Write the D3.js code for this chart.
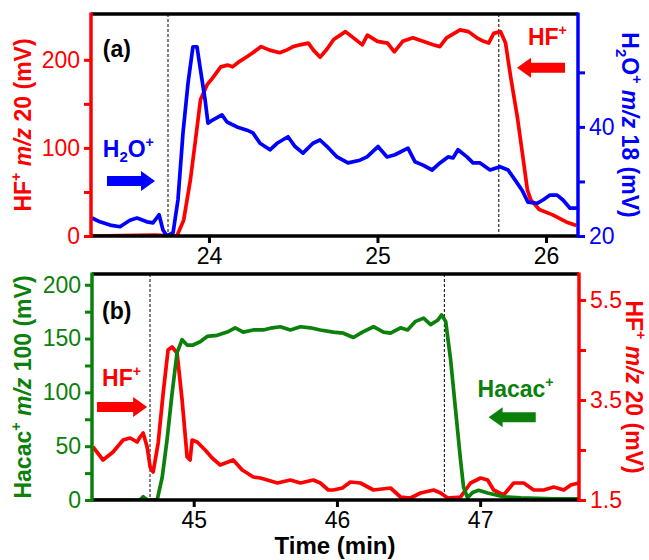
<!DOCTYPE html>
<html>
<head>
<meta charset="utf-8" />
<script src="https://d3js.org/d3.v7.min.js"></script>
<style>
  body { margin: 0; background: #fff; }
  svg { font-family: "Liberation Sans", Arial, sans-serif; }
  .tick text { font-size: 23px; }
</style>
</head>
<body>
<svg id="chart" width="649" height="560"></svg>
<script>
// ---- panel (a) data ----
const aRedTime = [23.30, 23.68, 23.81, 23.85, 23.89, 23.92, 23.95, 23.99, 24.02, 24.07, 24.11, 24.14, 24.18, 24.23, 24.26, 24.31, 24.36, 24.42, 24.46, 24.50, 24.54, 24.59, 24.62, 24.66, 24.70, 24.74, 24.81, 24.85, 24.91, 24.94, 25.00, 25.06, 25.10, 25.15, 25.21, 25.27, 25.33, 25.37, 25.41, 25.49, 25.54, 25.59, 25.63, 25.66, 25.69, 25.73, 25.76, 25.79, 25.83, 25.86, 25.89, 25.91, 25.96, 26.04, 26.12, 26.18];
const aRedHF = [0, 1, 0, 18, 64, 109, 155, 172, 179, 192, 194, 192, 198, 204, 208, 215, 211, 208, 211, 215, 217, 219, 211, 203, 212, 223, 232, 226, 217, 228, 221, 219, 209, 221, 225, 221, 217, 215, 225, 234, 232, 225, 221, 219, 230, 232, 219, 181, 135, 94, 52, 41, 30, 24, 16, 12];
const aBlueTime = [23.306, 23.353, 23.413, 23.472, 23.531, 23.573, 23.632, 23.668, 23.704, 23.727, 23.751, 23.787, 23.816, 23.846, 23.876, 23.905, 23.929, 23.947, 23.977, 23.994, 24.024, 24.077, 24.107, 24.166, 24.226, 24.261, 24.303, 24.362, 24.404, 24.469, 24.511, 24.558, 24.617, 24.659, 24.701, 24.760, 24.825, 24.896, 24.938, 25.003, 25.057, 25.104, 25.181, 25.223, 25.270, 25.324, 25.371, 25.419, 25.448, 25.478, 25.531, 25.567, 25.609, 25.668, 25.727, 25.775, 25.816, 25.858, 25.893, 25.947, 25.982, 26.024, 26.066, 26.101, 26.143, 26.184];
const aBlueH2O = [23.3, 22.6, 22.0, 21.7, 22.9, 23.3, 22.6, 22.4, 23.9, 21.1, 20.0, 20.6, 26.6, 38.9, 48.1, 54.7, 54.7, 51.0, 45.0, 40.7, 41.3, 42.2, 40.9, 40.0, 39.4, 38.9, 37.0, 35.8, 37.0, 38.2, 36.4, 35.2, 37.0, 37.6, 36.4, 34.5, 33.4, 33.9, 34.5, 36.4, 34.5, 34.9, 36.1, 33.6, 33.0, 32.1, 33.4, 34.5, 34.3, 35.8, 34.5, 33.4, 33.4, 32.1, 32.7, 32.1, 30.3, 28.4, 26.2, 26.0, 26.6, 27.5, 27.5, 26.6, 25.1, 25.1];

// ---- panel (b) data ----
const bGreenTime = [44.29, 44.626, 44.647, 44.675, 44.745, 44.780, 44.814, 44.849, 44.884, 44.919, 44.954, 44.996, 45.045, 45.094, 45.164, 45.234, 45.290, 45.346, 45.416, 45.486, 45.549, 45.605, 45.675, 45.745, 45.814, 45.884, 45.975, 46.045, 46.115, 46.178, 46.255, 46.325, 46.374, 46.444, 46.493, 46.549, 46.605, 46.654, 46.703, 46.731, 46.759, 46.794, 46.828, 46.863, 46.884, 46.912, 46.947, 46.989, 47.052, 47.164, 47.283, 47.514, 47.689];
const bGreenHacac = [0, 0, 3, 0, 0, 21, 56, 99, 137, 149, 144, 144, 147, 152, 153, 156, 160, 156, 158, 158, 160, 161, 158, 161, 160, 158, 156, 155, 151, 156, 161, 156, 155, 160, 158, 166, 169, 163, 167, 172, 166, 130, 84, 37, 12, 2, 7, 9, 6.5, 3, 2, 1, 1];
const bRedTime = [44.297, 44.367, 44.437, 44.507, 44.556, 44.605, 44.626, 44.647, 44.675, 44.696, 44.717, 44.752, 44.787, 44.821, 44.849, 44.884, 44.919, 44.954, 44.975, 44.989, 45.024, 45.080, 45.129, 45.185, 45.276, 45.339, 45.416, 45.465, 45.514, 45.584, 45.675, 45.745, 45.835, 45.884, 45.940, 45.975, 46.038, 46.094, 46.164, 46.255, 46.374, 46.444, 46.514, 46.584, 46.675, 46.724, 46.773, 46.863, 46.933, 47.003, 47.052, 47.094, 47.164, 47.234, 47.304, 47.374, 47.444, 47.514, 47.584, 47.633, 47.689];
const bRedHF = [2.56, 2.30, 2.46, 2.70, 2.74, 2.66, 2.76, 2.84, 2.56, 2.16, 2.06, 2.64, 3.64, 4.50, 4.56, 4.44, 3.50, 2.36, 2.30, 2.70, 2.66, 2.50, 2.34, 2.20, 2.30, 2.10, 1.96, 1.94, 1.90, 1.84, 1.90, 1.84, 1.90, 1.84, 1.70, 1.70, 1.74, 1.86, 1.84, 1.70, 1.74, 1.56, 1.54, 1.64, 1.70, 1.64, 1.54, 1.56, 1.84, 1.94, 1.90, 1.70, 1.60, 1.84, 1.84, 1.70, 1.70, 1.76, 1.70, 1.80, 1.84];

// ticks
const aXTicks = [24, 25, 26];
const aLeftTicks = [0, 50, 100, 150, 200], aLeftLabeled = [0, 100, 200];
const aRightTicks = [20, 30, 40, 50], aRightLabeled = [20, 40];
const bXTicks = [45, 46, 47];
const bLeftTicks = [0, 25, 50, 75, 100, 125, 150, 175, 200], bLeftLabeled = [0, 50, 100, 150, 200];
const bRightTicks = [1.5, 2.5, 3.5, 4.5, 5.5], bRightLabeled = [1.5, 3.5, 5.5];

// event markers (min)
const aEvents = [23.757, 25.72];
const bEvents = [44.695, 46.75];

const RED = "#ff0000", BLUE = "#0000ff", GREEN = "#0b800b";

const svg = d3.select("#chart");

// writes text with parts: {t, sup, sub, it}
function richText(sel, parts, fs) {
  let shift = 0;
  parts.forEach(p => {
    const ts = sel.append("tspan").text(p.t);
    let target = 0;
    if (p.sup) { target = -0.42 * fs; ts.attr("font-size", fs * 0.62); }
    if (p.sub) { target = 0.25 * fs; ts.attr("font-size", fs * 0.65); }
    if (p.it) ts.attr("font-style", "italic");
    if (target !== shift) { ts.attr("dy", target - shift); shift = target; }
  });
}

function arrow(g, x1, x2, y, color) {
  const dir = x2 > x1 ? 1 : -1;
  const head = 14, hh = 10, sh = 5;
  const xb = x2 - dir * head;
  g.append("path")
    .attr("d", `M${x1},${y - sh}L${xb},${y - sh}L${xb},${y - hh}L${x2},${y}L${xb},${y + hh}L${xb},${y + sh}L${x1},${y + sh}Z`)
    .attr("fill", color);
}

function panel(cfg) {
  const x = d3.scaleLinear().domain(cfg.xDomain).range([cfg.left, cfg.right]);
  const yL = d3.scaleLinear().domain(cfg.lDomain).range([cfg.bottom, cfg.top]);
  const yR = d3.scaleLinear().domain(cfg.rDomain).range([cfg.bottom, cfg.top]);
  const g = svg.append("g");
  const cid = "clip" + cfg.id;
  g.append("clipPath").attr("id", cid).append("rect")
    .attr("x", cfg.left).attr("y", cfg.top - 2)
    .attr("width", cfg.right - cfg.left).attr("height", cfg.bottom - cfg.top + 2);

  // event dashed lines
  g.selectAll(".ev").data(cfg.events).join("line")
    .attr("x1", d => x(d)).attr("x2", d => x(d))
    .attr("y1", cfg.top).attr("y2", cfg.bottom)
    .attr("stroke", "#000").attr("stroke-width", 1).attr("stroke-dasharray", "3,2");

  // series
  const lines = g.append("g").attr("clip-path", `url(#${cid})`);
  cfg.series.forEach(s => {
    const ys = s.axis === "left" ? yL : yR;
    const line = d3.line().x((d, i) => x(s.t[i])).y(d => ys(d));
    lines.append("path").datum(s.v)
      .attr("d", line).attr("fill", "none")
      .attr("stroke", s.color).attr("stroke-width", 3.7)
      .attr("stroke-linejoin", "round");
  });

  // axes
  const fmt = (lab) => d => lab.includes(d) ? d3.format("")(d) : "";
  const ax = g.append("g").attr("transform", `translate(0,${cfg.bottom})`)
    .call(d3.axisBottom(x).tickValues(cfg.xTicks).tickSize(7).tickPadding(5).tickFormat(d3.format("d")));
  const al = g.append("g").attr("transform", `translate(${cfg.left},0)`)
    .call(d3.axisLeft(yL).tickValues(cfg.lTicks).tickSize(7).tickPadding(4).tickFormat(fmt(cfg.lLabeled)));
  const ar = g.append("g").attr("transform", `translate(${cfg.right},0)`)
    .call(d3.axisRight(yR).tickValues(cfg.rTicks).tickSize(7).tickPadding(4).tickFormat(fmt(cfg.rLabeled)));
  [[ax, "#000"], [al, cfg.lColor], [ar, cfg.rColor]].forEach(([a, c]) => {
    a.select(".domain").remove();
    a.selectAll("line").attr("stroke", c).attr("stroke-width", 3);
    a.selectAll("text").attr("fill", c).attr("font-family", "Liberation Sans, Arial, sans-serif");
  });
  // frame
  g.append("line").attr("x1", cfg.left).attr("x2", cfg.right).attr("y1", cfg.top).attr("y2", cfg.top)
    .attr("stroke", "#000").attr("stroke-width", 3.5);
  g.append("line").attr("x1", cfg.left).attr("x2", cfg.right).attr("y1", cfg.bottom).attr("y2", cfg.bottom)
    .attr("stroke", "#000").attr("stroke-width", 3.5);
  g.append("line").attr("x1", cfg.left).attr("x2", cfg.left).attr("y1", cfg.top - 1.5).attr("y2", cfg.bottom + 1.5)
    .attr("stroke", cfg.lColor).attr("stroke-width", 3.5);
  g.append("line").attr("x1", cfg.right).attr("x2", cfg.right).attr("y1", cfg.top - 1.5).attr("y2", cfg.bottom + 1.5)
    .attr("stroke", cfg.rColor).attr("stroke-width", 3.5);

  // axis titles
  const cy = (cfg.top + cfg.bottom) / 2;
  const lt = g.append("text").attr("transform", `translate(${cfg.lTitleX},${cy}) rotate(-90)`)
    .attr("text-anchor", "middle").attr("font-weight", "bold").attr("font-size", 23).attr("fill", cfg.lColor);
  richText(lt, cfg.lTitle, 23);
  const rt = g.append("text").attr("transform", `translate(${cfg.rTitleX},${cy}) rotate(90)`)
    .attr("text-anchor", "middle").attr("font-weight", "bold").attr("font-size", 23).attr("fill", cfg.rColor);
  richText(rt, cfg.rTitle, 23);

  // panel label
  g.append("text").attr("x", x(cfg.label.t)).attr("y", yL(cfg.label.v))
    .attr("font-weight", "bold").attr("font-size", 23).attr("fill", "#000").text(cfg.label.text);

  // annotations
  cfg.notes.forEach(n => {
    const tx = g.append("text").attr("x", x(n.t)).attr("y", yL(n.v))
      .attr("font-weight", "bold").attr("font-size", 23).attr("fill", n.color);
    richText(tx, n.parts, 23);
    arrow(g, x(n.a1), x(n.a2), yL(n.av), n.color);
  });
  return { x };
}

panel({
  id: "a", left: 91, right: 578, top: 14, bottom: 236,
  xDomain: [23.3, 26.19], lDomain: [0, 252], rDomain: [20, 60.7],
  xTicks: aXTicks, lTicks: aLeftTicks, lLabeled: aLeftLabeled, rTicks: aRightTicks, rLabeled: aRightLabeled,
  lColor: RED, rColor: BLUE, events: aEvents,
  series: [
    { t: aRedTime, v: aRedHF, axis: "left", color: RED },
    { t: aBlueTime, v: aBlueH2O, axis: "right", color: BLUE }
  ],
  lTitleX: 31, rTitleX: 622,
  lTitle: [{ t: "HF" }, { t: "+", sup: true }, { t: " " }, { t: "m/z", it: true }, { t: " 20 (mV)" }],
  rTitle: [{ t: "H" }, { t: "2", sub: true }, { t: "O" }, { t: "+", sup: true }, { t: " " }, { t: "m/z", it: true }, { t: " 18 (mV)" }],
  label: { text: "(a)", t: 23.37, v: 203 },
  notes: [
    { parts: [{ t: "H" }, { t: "2", sub: true }, { t: "O" }, { t: "+", sup: true }], t: 23.37, v: 90, color: BLUE, a1: 23.395, a2: 23.68, av: 62.5 },
    { parts: [{ t: "HF" }, { t: "+", sup: true }], t: 25.893, v: 217, color: RED, a1: 26.113, a2: 25.828, av: 191 }
  ]
});

panel({
  id: "b", left: 92, right: 579, top: 274, bottom: 500,
  xDomain: [44.29, 47.69], lDomain: [0, 210], rDomain: [1.5, 6.02],
  xTicks: bXTicks, lTicks: bLeftTicks, lLabeled: bLeftLabeled, rTicks: bRightTicks, rLabeled: bRightLabeled,
  lColor: GREEN, rColor: RED, events: bEvents,
  series: [
    { t: bRedTime, v: bRedHF, axis: "right", color: RED },
    { t: bGreenTime, v: bGreenHacac, axis: "left", color: GREEN }
  ],
  lTitleX: 31, rTitleX: 626,
  lTitle: [{ t: "Hacac" }, { t: "+", sup: true }, { t: " " }, { t: "m/z", it: true }, { t: " 100 (mV)" }],
  rTitle: [{ t: "HF" }, { t: "+", sup: true }, { t: " " }, { t: "m/z", it: true }, { t: " 20 (mV)" }],
  label: { text: "(b)", t: 44.36, v: 168 },
  notes: [
    { parts: [{ t: "HF" }, { t: "+", sup: true }], t: 44.36, v: 106, color: RED, a1: 44.325, a2: 44.675, av: 86.5 },
    { parts: [{ t: "Hacac" }, { t: "+", sup: true }], t: 46.982, v: 96, color: GREEN, a1: 47.388, a2: 47.059, av: 77 }
  ]
});

svg.append("text").attr("x", 335).attr("y", 554).attr("text-anchor", "middle")
  .attr("font-weight", "bold").attr("font-size", 24).attr("fill", "#000").text("Time (min)");
</script>
</body>
</html>
